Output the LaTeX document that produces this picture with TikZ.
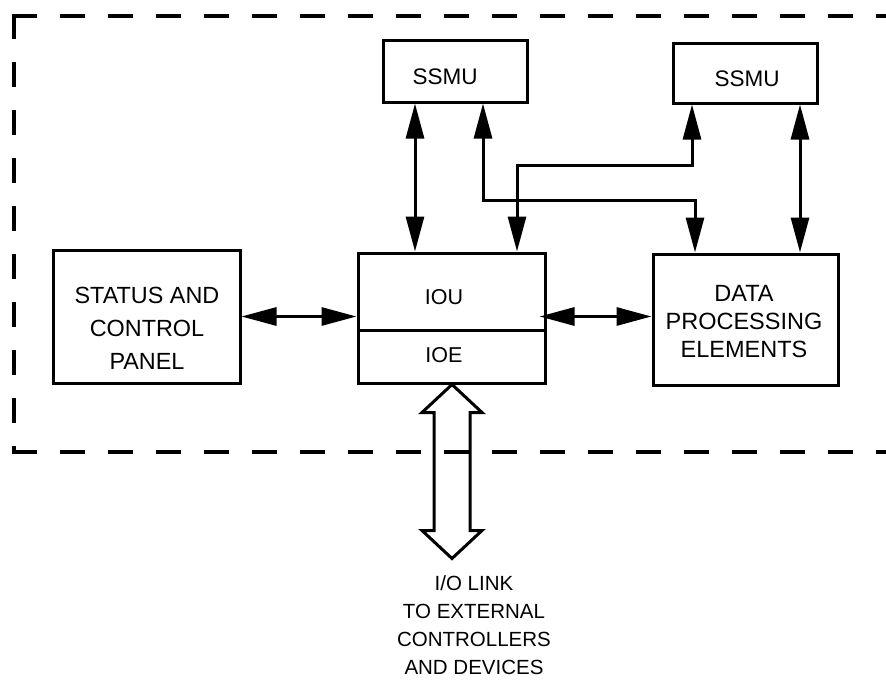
\documentclass[tikz,border=0pt]{standalone}
\usepackage{fontspec}
\setmainfont{Liberation Sans}
\usetikzlibrary{arrows.meta}

\begin{document}
\begin{tikzpicture}[x=1pt,y=-1pt,
  box/.style={draw, line width=3pt, rectangle, inner sep=0pt},
  lbl/.style={align=center, inner sep=0pt},
  biarrow/.style={line width=3pt,
    {Triangle[length=35pt,width=18pt]}-{Triangle[length=35pt,width=18pt]}},
  frame/.style={line width=3.8pt, line cap=rect, dash pattern=on 21pt off 27pt},
  hollow/.style={line width=3pt, line join=miter}]
\useasboundingbox (0,0) rectangle (886,680);

% dashed enclosure (open to the right)
\draw[frame] (14,16) -- (886,16);
\draw[frame] (14,16) -- (14,452);
\draw[frame] (14,452) -- (886,452);

% boxes
\node[box, minimum width=187pt, minimum height=133pt] (status) at (146.5,316.5) {};
\node[box, minimum width=187pt, minimum height=77pt]  (iou)    at (451.5,291.5) {};
\node[box, minimum width=187pt, minimum height=53pt]  (ioe)    at (451.5,356.5) {};
\node[box, minimum width=185pt, minimum height=131pt] (dpe)    at (745.5,319.5) {};
\node[box, minimum width=144pt, minimum height=62pt]  (ssmuL)  at (455,71) {};
\node[box, minimum width=144pt, minimum height=60pt]  (ssmuR)  at (745,73) {};

% labels
\node[lbl, font=\fontsize{23.4}{33}\selectfont] (t-status) at (147,328)
  {STATUS AND\\CONTROL\\PANEL};
\node[lbl, font=\fontsize{23.5}{28}\selectfont] (t-dpe) at (744,322)
  {DATA\\PROCESSING\\ELEMENTS};
\node[lbl, font=\fontsize{21.5}{26}\selectfont] (t-iou) at (444,297) {IOU};
\node[lbl, font=\fontsize{21.5}{26}\selectfont] (t-ioe) at (444,355) {IOE};
\node[lbl, font=\fontsize{22.5}{26}\selectfont] (t-ssmuL) at (445,77) {SSMU};
\node[lbl, font=\fontsize{22.5}{26}\selectfont] (t-ssmuR) at (747,79) {SSMU};
\node[lbl, font=\fontsize{20.5}{28}\selectfont] (t-link) at (474,625)
  {I/O LINK\\TO EXTERNAL\\CONTROLLERS\\AND DEVICES};

% horizontal links
\draw[biarrow] (status.east) -- (status.east -| iou.west);
\draw[biarrow] ([xshift=-7pt]iou.east |- status.east) -- (dpe.west |- status.east);

% straight vertical links
\draw[biarrow] ([xshift=-40pt]ssmuL.south) -- ([xshift=-40pt]ssmuL.south |- iou.north);
\draw[biarrow] ([xshift=55pt]ssmuR.south) -- ([xshift=55pt]ssmuR.south |- dpe.north);

% crossing links
\coordinate (jL) at (695,200);
\coordinate (jR) at (517,165);
\draw[biarrow] ([xshift=28pt]ssmuL.south) |- (jL) -- (jL |- dpe.north);
\draw[biarrow] ([xshift=-53pt]ssmuR.south) |- (jR) -- (jR |- iou.north);

% hollow double arrow for the external I/O link
\coordinate (tipT) at ([xshift=0.5pt]ioe.south);
\draw[hollow] (tipT) -- ++(30,28) -- ++(-12,0) -- ++(0,118) -- ++(12,0)
  -- ++(-30,28) -- ++(-30,-28) -- ++(12,0) -- ++(0,-118) -- ++(-12,0) -- cycle;
\end{tikzpicture}
\end{document}
